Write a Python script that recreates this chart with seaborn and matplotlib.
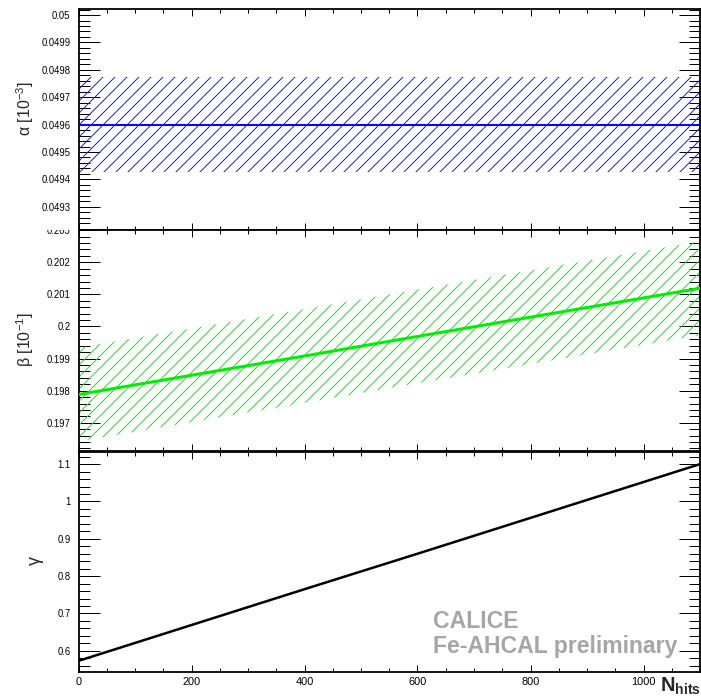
import matplotlib
matplotlib.use("Agg")
import matplotlib.pyplot as plt
import seaborn as sns
import pandas as pd
from matplotlib.ticker import FixedLocator, MultipleLocator, FixedFormatter
from matplotlib.transforms import Bbox, TransformedBbox

# ---------------- data ----------------
n_hits = [0, 200, 400, 600, 800, 1000, 1100]

alpha_val = [0.0496, 0.0496, 0.0496, 0.0496, 0.0496, 0.0496, 0.0496]
alpha_lo = [0.049427, 0.049427, 0.049427, 0.049427, 0.049427, 0.049427, 0.049427]
alpha_hi = [0.049772, 0.049772, 0.049772, 0.049772, 0.049772, 0.049772, 0.049772]

beta_val = [0.19788, 0.19848, 0.19908, 0.19969, 0.20029, 0.20089, 0.20119]
beta_lo = [0.19642, 0.19702, 0.19762, 0.19823, 0.19883, 0.19943, 0.19973]
beta_hi = [0.19934, 0.19994, 0.20054, 0.20115, 0.20175, 0.20235, 0.20265]

gamma_val = [0.573, 0.669, 0.765, 0.860, 0.956, 1.052, 1.100]

alpha_ticks = [0.0493, 0.0494, 0.0495, 0.0496, 0.0497, 0.0498, 0.0499, 0.05]
beta_ticks = [0.197, 0.198, 0.199, 0.2, 0.201, 0.202, 0.203]
gamma_ticks = [0.6, 0.7, 0.8, 0.9, 1, 1.1]

alpha_label = "α [10$^{-3}$]"
beta_label = "β [10$^{-1}$]"
gamma_label = "γ"
x_label = r"$\mathbf{N_{hits}}$"
watermark = ["CALICE", "Fe-AHCAL preliminary"]

# ---------------- style ----------------
sns.set_style("ticks")
plt.rcParams["font.family"] = ["Liberation Sans", "DejaVu Sans"]
plt.rcParams["mathtext.fontset"] = "custom"
plt.rcParams["mathtext.rm"] = "Liberation Sans"
plt.rcParams["mathtext.it"] = "Liberation Sans:italic"
plt.rcParams["mathtext.bf"] = "Liberation Sans:bold"
plt.rcParams["hatch.linewidth"] = 1.0

W, H, DPI = 701, 699, 72
fig = plt.figure(figsize=(W / DPI, H / DPI), dpi=DPI)
fig.patch.set_facecolor("white")

left = 78.5 / W
width = (700.0 - 78.5) / W


def rect(top_px, bot_px):
    return [left, 1 - bot_px / H, width, (bot_px - top_px) / H]


ax1 = fig.add_axes(rect(9.0, 229.5))
ax2 = fig.add_axes(rect(230.0, 451.0))
ax3 = fig.add_axes(rect(451.5, 672.3))

df = pd.DataFrame({"n_hits": n_hits, "alpha": alpha_val, "beta": beta_val,
                   "gamma": gamma_val})

# bands
ax1.fill_between(n_hits, alpha_lo, alpha_hi, facecolor="none",
                 edgecolor="#1a1aff", linewidth=0, hatch="//", zorder=1)
ax2.fill_between(n_hits, beta_lo, beta_hi, facecolor="none",
                 edgecolor="#11ee11", linewidth=0, hatch="//", zorder=1)

# lines
sns.lineplot(data=df, x="n_hits", y="alpha", ax=ax1, color="#0000ff",
             linewidth=2.0, zorder=3)
sns.lineplot(data=df, x="n_hits", y="beta", ax=ax2, color="#00ee00",
             linewidth=3.0, zorder=3)
sns.lineplot(data=df, x="n_hits", y="gamma", ax=ax3, color="black",
             linewidth=2.5, zorder=3)

ylims = [(0.049217, 0.050022), (0.19612, 0.203006), (0.5424, 1.1338)]
yticks = [alpha_ticks, beta_ticks, gamma_ticks]
yminor = [0.00002, 0.0002, 0.02]

for i, ax in enumerate([ax1, ax2, ax3]):
    ax.set_xlim(0, 1100)
    ax.set_ylim(*ylims[i])
    ax.yaxis.set_major_locator(FixedLocator(yticks[i]))
    ax.yaxis.set_major_formatter(FixedFormatter(["{:g}".format(t) for t in yticks[i]]))
    ax.yaxis.set_minor_locator(MultipleLocator(yminor[i]))
    ax.xaxis.set_major_locator(MultipleLocator(200))
    ax.xaxis.set_minor_locator(MultipleLocator(50))
    ax.tick_params(axis="y", which="major", direction="in", length=21, width=1.0,
                   left=True, right=True, labelsize=9.5, pad=8, colors="black")
    ax.tick_params(axis="y", which="minor", direction="in", length=11, width=1.0,
                   left=True, right=True, colors="black")
    ax.tick_params(axis="x", which="major", direction="in", length=7, width=1.0,
                   top=True, bottom=True, labelsize=11, pad=5, colors="black")
    ax.tick_params(axis="x", which="minor", direction="in", length=4, width=1.0,
                   top=True, bottom=True, colors="black")
    for s in ax.spines.values():
        s.set_linewidth(1.8)
        s.set_color("black")
    ax.set_xlabel("")
    ax.set_facecolor("white")

ax1.tick_params(axis="x", labelbottom=False)
ax2.tick_params(axis="x", labelbottom=False)

# y labels
ax1.set_ylabel(alpha_label, fontsize=16)
ax2.set_ylabel(beta_label, fontsize=16)
ax3.set_ylabel(gamma_label, fontsize=18)
for ax, (xc, yc) in zip([ax1, ax2, ax3],
                        [(-0.0861, 0.5465), (-0.0861, 0.502), (-0.070, 0.5086)]):
    ax.yaxis.set_label_coords(xc, yc)
    ax.yaxis.label.set_va("center")

# x label
ax3.set_xlabel(x_label, fontsize=20)
ax3.xaxis.set_label_coords(1.0015, -0.016)
ax3.xaxis.label.set_ha("right")
ax3.xaxis.label.set_va("top")

# watermark
ax3.text(0.5704, 0.2006, watermark[0], transform=ax3.transAxes, color="#a6a6a6",
         fontsize=23, fontweight="bold", va="baseline", ha="left")
ax3.text(0.5704, 0.0892, watermark[1], transform=ax3.transAxes, color="#a6a6a6",
         fontsize=23, fontweight="bold", va="baseline", ha="left")

# clip the top tick label of the middle panel like the reference
top_tick = ax2.yaxis.get_major_ticks()[-1]
clip = TransformedBbox(Bbox.from_extents(0, 0, 1, 1 - 230.0 / H), fig.transFigure)
top_tick.label1.set_clip_on(True)
top_tick.label1.set_clip_box(clip)

fig.savefig("out.png", dpi=DPI, facecolor="white")
